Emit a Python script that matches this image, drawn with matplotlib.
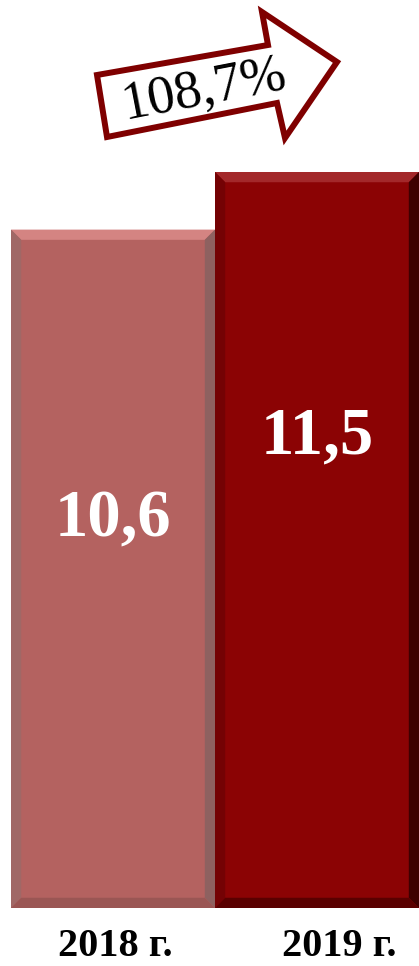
import numpy as np
import matplotlib

matplotlib.use('Agg')
import matplotlib.pyplot as plt
from matplotlib.patches import Polygon

years = ["2018 г.", "2019 г."]
values = [10.6, 11.5]
value_labels = ["10,6", "11,5"]
growth_label = "108,7%"

bar_colors = ["#B46260", "#8B0304"]
top_colors = ["#D48482", "#A3282A"]
side_left = ["#A06866", "#740204"]
side_right = ["#8E6160", "#3E0000"]
bottom_colors = ["#9A5654", "#5A0000"]

W, H = 419, 966
fig = plt.figure(figsize=(W / 100, H / 100), dpi=100)
ax = fig.add_axes([0, 0, 1, 1])
ax.set_xlim(-0.554, 1.5)
ax.set_ylim(-(H - 908) / 64, 908 / 64)
ax.axis('off')

x = np.arange(len(values))
bars = ax.bar(x, values, width=1.0, color=bar_colors, edgecolor='none', zorder=2)

bx, by = 0.05, 0.16
label_pos = [0.572, 0.64]
for i, b in enumerate(bars):
    x0, x1 = b.get_x(), b.get_x() + b.get_width()
    y0, y1 = 0, b.get_height()
    pieces = [
        ([(x0, y1), (x1, y1), (x1 - bx, y1 - by), (x0 + bx, y1 - by)], top_colors[i]),
        ([(x0, y0), (x0, y1), (x0 + bx, y1 - by), (x0 + bx, y0 + by)], side_left[i]),
        ([(x1, y0), (x1, y1), (x1 - bx, y1 - by), (x1 - bx, y0 + by)], side_right[i]),
        ([(x0, y0), (x1, y0), (x1 - bx, y0 + by), (x0 + bx, y0 + by)], bottom_colors[i]),
    ]
    for pts, c in pieces:
        ax.add_patch(Polygon(pts, closed=True, facecolor=c, edgecolor='none', zorder=3))
    ax.text(x[i], y1 * label_pos[i], value_labels[i], color='white', fontsize=48,
            fontweight='bold', family='Liberation Serif', ha='center', va='center', zorder=4)

# category labels under the bars
ax.text(0.01, -0.6, years[0], fontsize=29, fontweight='bold', family='Liberation Serif',
        ha='center', va='center')
ax.text(1.11, -0.6, years[1], fontsize=29, fontweight='bold', family='Liberation Serif',
        ha='center', va='center')

# growth arrow (pixel coordinates)
arrow_px = [(97, 75), (268, 45), (262, 12), (337, 62), (285, 138), (277, 103), (107, 137)]
arrow = [(px / W, 1 - py / H) for px, py in arrow_px]
fig.patches.append(Polygon(arrow, closed=True, facecolor='white', edgecolor='#7F0000',
                           linewidth=4.3, transform=fig.transFigure, figure=fig, zorder=5))
fig.text(204 / W, 1 - 90 / H, growth_label, fontsize=39, family='Liberation Serif',
         rotation=11, ha='center', va='center', zorder=6)

fig.savefig('out.png', dpi=100)
